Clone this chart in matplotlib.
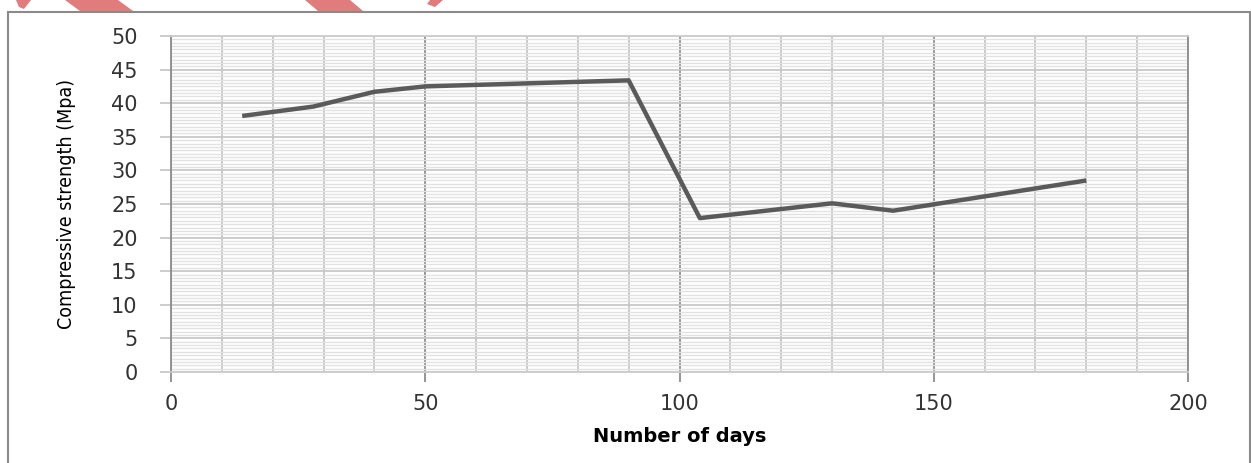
import matplotlib.pyplot as plt
from matplotlib.patches import Rectangle, Polygon
from matplotlib.ticker import MultipleLocator

# 数据
days = [14, 28, 40, 50, 90, 104, 130, 142, 180]
strength = [38.1, 39.5, 41.7, 42.5, 43.4, 22.9, 25.1, 24.0, 28.5]
x_ticks = [0, 50, 100, 150, 200]
y_ticks = [0, 5, 10, 15, 20, 25, 30, 35, 40, 45, 50]

W, H = 1251, 463
fig = plt.figure(figsize=(W / 100, H / 100), dpi=100)
fig.patch.set_facecolor('white')

ax = fig.add_axes([171 / W, 1 - 372 / H, (1188 - 171) / W, (372 - 36) / H])
ax.plot(days, strength, color='#5a5a5a', linewidth=3.2, solid_joinstyle='round',
        solid_capstyle='butt', zorder=5)

ax.set_xlim(0, 200)
ax.set_ylim(0, 50)
ax.set_xticks(x_ticks)
ax.set_yticks(y_ticks)
ax.xaxis.set_minor_locator(MultipleLocator(10))
ax.yaxis.set_minor_locator(MultipleLocator(0.5))

# 网格
ax.grid(which='major', axis='x', color='#8c8c8c', linewidth=1.3)
ax.grid(which='minor', axis='x', color='#c4c4c4', linewidth=1.3)
ax.grid(which='major', axis='y', color='#c8c8c8', linewidth=1.3)
ax.grid(which='minor', axis='y', color='#e2e2e2', linewidth=1.0)
ax.set_axisbelow(True)

for side in ['left', 'right']:
    ax.spines[side].set_color('#8c8c8c')
    ax.spines[side].set_linewidth(1.3)
for side in ['top', 'bottom']:
    ax.spines[side].set_color('#cccccc')
    ax.spines[side].set_linewidth(1.3)

ax.tick_params(axis='y', which='major', length=8, width=1.3, color='#c8c8c8',
               pad=16, labelsize=15, labelcolor='#333333')
ax.tick_params(axis='x', which='major', length=7, width=1.3, color='#8c8c8c',
               pad=9, labelsize=15, labelcolor='#333333')
ax.tick_params(which='minor', length=0)

ax.set_xlabel('Number of days', fontsize=14, fontweight='bold', labelpad=9)
ax.set_ylabel('Compressive strength (Mpa)', fontsize=14, fontstretch='condensed',
              family=['Liberation Sans Narrow', 'DejaVu Sans'])
ax.yaxis.set_label_coords(-(171 - 76) / (1188 - 171), 0.5)

# 外框
fig.patches.append(Rectangle((8 / W, -0.05), (1249.5 - 8) / W, 1.05 - 12 / H,
                             transform=fig.transFigure, fill=False,
                             edgecolor='#8a8a8a', linewidth=1.5))

# 顶部红色水印片段
shapes = [
    [(16, 0), (31, 0), (24, 9), (19, 7)],
    [(65, 0), (118, 0), (133, 11), (80, 11)],
    [(305, 0), (350, 0), (363, 11), (318, 11)],
    [(430, 0), (443, 0), (435, 7), (427, 4)],
]
for pts in shapes:
    fig.patches.append(Polygon([(x / W, 1 - y / H) for x, y in pts],
                               closed=True, transform=fig.transFigure,
                               facecolor='#e07c7c', edgecolor='none'))

fig.savefig('out.png', dpi=100)
